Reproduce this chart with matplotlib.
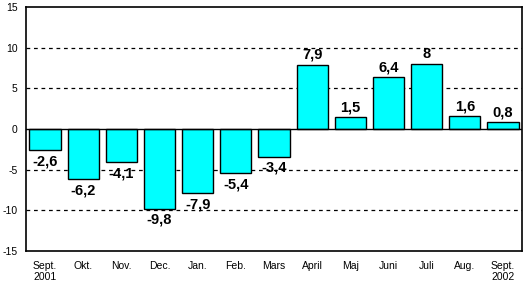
import matplotlib
matplotlib.use("Agg")
import matplotlib.pyplot as plt

categories = ["Sept.\n2001", "Okt.", "Nov.", "Dec.", "Jan.", "Feb.", "Mars",
              "April", "Maj", "Juni", "Juli", "Aug.", "Sept.\n2002"]
values = [-2.6, -6.2, -4.1, -9.8, -7.9, -5.4, -3.4, 7.9, 1.5, 6.4, 8, 1.6, 0.8]
labels = ["-2,6", "-6,2", "-4,1", "-9,8", "-7,9", "-5,4", "-3,4",
          "7,9", "1,5", "6,4", "8", "1,6", "0,8"]
yticks = [-15, -10, -5, 0, 5, 10, 15]

plt.rcParams['font.family'] = ['Liberation Sans', 'DejaVu Sans']

fig = plt.figure(figsize=(5.24, 2.83), dpi=100)
ax = fig.add_axes([26/524, 32/283, 496/524, 244/283])

x = list(range(len(values)))
ax.bar(x, values, width=0.82, color="#00FFFF", edgecolor="black", linewidth=1, zorder=3)

ax.set_xlim(-0.5, len(values) - 0.5)
ax.set_ylim(-15, 15)
ax.set_yticks(yticks)
ax.set_yticklabels([str(t) for t in yticks], fontsize=7.5)
ax.tick_params(axis='y', length=0, pad=6)
ax.set_xticks(x)
ax.set_xticklabels(categories, fontsize=7.5, linespacing=1.1)
ax.tick_params(axis='x', length=0, pad=7)

for t in [-10, -5, 5, 10]:
    ax.axhline(t, color="black", linestyle=(0, (3, 3)), linewidth=0.9, zorder=1)
ax.axhline(0, color="black", linewidth=1, zorder=4)

for xi, v, lab in zip(x, values, labels):
    off = 2 if v >= 0 else -3
    ax.annotate(lab, (xi, v), xytext=(0, off), textcoords="offset points",
                ha="center", va="bottom" if v >= 0 else "top",
                fontsize=10.5, fontweight="bold", zorder=5)

for s in ax.spines.values():
    s.set_linewidth(1.2)
    s.set_color("black")

fig.savefig("out.png", dpi=100)
